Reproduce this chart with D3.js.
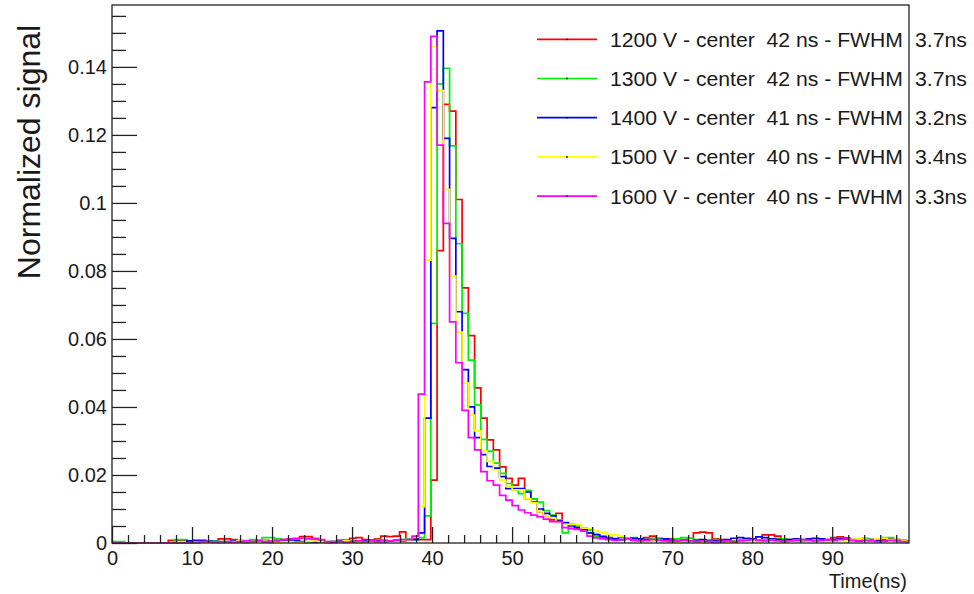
<!DOCTYPE html>
<html>
<head>
<meta charset="utf-8">
<script src="https://cdn.jsdelivr.net/npm/d3@7"></script>
<style>
  html, body { margin: 0; padding: 0; background: #fff; }
  svg { display: block; font-family: "Liberation Sans", Arial, Helvetica, sans-serif; }
</style>
</head>
<body>
<svg id="chart" width="974" height="594"></svg>
<script>
// Time histograms: 128 bins spanning 0–100 ns, normalized to unit area
const nBins = 128;
const histLow = 0, histHigh = 100;

const voltages = ["1200 V", "1300 V", "1400 V", "1500 V", "1600 V"];
const centers = ["42 ns", "42 ns", "41 ns", "40 ns", "40 ns"];
const fwhms = ["3.7ns", "3.7ns", "3.2ns", "3.4ns", "3.3ns"];
const colors = ["#ff0000", "#00ee00", "#0000ff", "#ffff00", "#ff00ff"];

const yMajorTicks = [0, 0.02, 0.04, 0.06, 0.08, 0.1, 0.12, 0.14];
const yTickLabels = ["0", "0.02", "0.04", "0.06", "0.08", "0.1", "0.12", "0.14"];
const xMajorTicks = [0, 10, 20, 30, 40, 50, 60, 70, 80, 90];
const xTickLabels = ["0", "10", "20", "30", "40", "50", "60", "70", "80", "90"];

const signal1200 = [
  0, 0, 0, 0, 0, 0, 0, 0, 0, 0.0008, 0.0008, 0.0008, 0.0004, 0.0004, 0.0006, 0.0006,
  0.0004, 0.0012, 0.0012, 0.0010, 0.0006, 0.0006, 0.0004, 0.0008, 0.0008, 0.0004, 0.0006, 0.0010, 0.0010, 0.0012, 0.0019, 0.0019,
  0.0012, 0.0004, 0.0002, 0.0004, 0.0006, 0.0004, 0.0014, 0.0016, 0.0010, 0.0008, 0.0012, 0.0020, 0.0019, 0.0020, 0.0033, 0.0012,
  0.0015, 0.0010, 0.0010, 0.0185, 0.086, 0.129, 0.127, 0.101, 0.075, 0.061, 0.0456, 0.0367, 0.0303, 0.0274, 0.0224, 0.019,
  0.017, 0.019, 0.013, 0.013, 0.0092, 0.008, 0.0068, 0.0087, 0.0058, 0.0055, 0.0044, 0.0044, 0.003, 0.0025, 0.002, 0.0016,
  0.0012, 0.0018, 0.0014, 0.0010, 0.0012, 0.0016, 0.0020, 0.0014, 0.0010, 0.0012, 0.0008, 0.0010, 0.0014, 0.0030, 0.0032, 0.0030,
  0.0012, 0.0010, 0.0006, 0.0004, 0.0008, 0.0010, 0.0012, 0.0008, 0.0024, 0.0024, 0.0020, 0.0012, 0.0010, 0.0012, 0.0008, 0.0010,
  0.0012, 0.0008, 0.0010, 0.0016, 0.0018, 0.0015, 0.0010, 0.0008, 0.0012, 0.0010, 0.0008, 0.0010, 0.0012, 0.0010, 0.0008, 0.0006
];
const signal1300 = [
  0.0004, 0.0004, 0, 0, 0, 0, 0, 0, 0, 0, 0.0010, 0.0010, 0.0004, 0.0002, 0.0004, 0.0004,
  0.0006, 0.0004, 0.0002, 0.0006, 0.0008, 0.0006, 0.0010, 0.0008, 0.0016, 0.0016, 0.0012, 0.0010, 0.0006, 0.0004, 0.0002, 0.0004,
  0.0006, 0.0008, 0.0004, 0.0002, 0.0004, 0.0006, 0.0008, 0.0006, 0.0004, 0.0006, 0.0010, 0.0008, 0.0006, 0.0008, 0.0010, 0.0012,
  0.0010, 0.0016, 0.008, 0.0646, 0.135, 0.1396, 0.1168, 0.088, 0.0675, 0.0538, 0.0406, 0.0305, 0.027, 0.0235, 0.0205, 0.0175,
  0.0156, 0.0145, 0.0155, 0.013, 0.012, 0.0095, 0.0082, 0.0068, 0.003, 0.0043, 0.005, 0.004, 0.0038, 0.002, 0.002, 0.0016,
  0.0014, 0.0010, 0.0012, 0.0016, 0.0012, 0.0010, 0.0014, 0.0012, 0.0008, 0.0010, 0.0012, 0.0016, 0.0014, 0.0010, 0.0008, 0.0006,
  0.0010, 0.0008, 0.0004, 0.0006, 0.0008, 0.0010, 0.0012, 0.0008, 0.0010, 0.0012, 0.0014, 0.0012, 0.0010, 0.0008, 0.0006, 0.0010,
  0.0012, 0.0010, 0.0008, 0.0006, 0.0010, 0.0008, 0.0010, 0.0012, 0.0014, 0.0010, 0.0012, 0.0016, 0.0016, 0.0010, 0.0006, 0.0004
];
const signal1400 = [
  0, 0, 0, 0, 0, 0, 0, 0, 0, 0, 0, 0, 0.0006, 0.0008, 0.0008, 0.0006,
  0.0004, 0.0002, 0.0004, 0.0006, 0.0004, 0.0002, 0.0004, 0.0006, 0.0004, 0.0002, 0.0004, 0.0008, 0.0008, 0.0006, 0.0004, 0.0002,
  0.0002, 0.0004, 0.0002, 0.0004, 0.0008, 0.0008, 0.0004, 0.0002, 0.0006, 0.0008, 0.0006, 0.0004, 0.0006, 0.0008, 0.0006, 0.0010,
  0.0010, 0.003, 0.0367, 0.128, 0.1506, 0.119, 0.0896, 0.068, 0.051, 0.040, 0.031, 0.026, 0.0225, 0.022, 0.0195, 0.016,
  0.016, 0.016, 0.015, 0.012, 0.010, 0.0087, 0.0080, 0.0065, 0.006, 0.005, 0.0045, 0.004, 0.003, 0.0025, 0.0018, 0.0014,
  0.0012, 0.0010, 0.0012, 0.0014, 0.0012, 0.0010, 0.0008, 0.0010, 0.0012, 0.0008, 0.0006, 0.0004, 0.0006, 0.0008, 0.0010, 0.0008,
  0.0006, 0.0008, 0.0010, 0.0014, 0.0016, 0.0014, 0.0012, 0.0018, 0.0016, 0.0012, 0.0010, 0.0008, 0.0010, 0.0012, 0.0010, 0.0012,
  0.0014, 0.0012, 0.0008, 0.0010, 0.0012, 0.0010, 0.0008, 0.0006, 0.0008, 0.0010, 0.0008, 0.0006, 0.0010, 0.0008, 0.0006, 0.0004
];
const signal1500 = [
  0, 0, 0, 0, 0, 0, 0, 0, 0, 0, 0, 0, 0, 0.0002, 0.0002, 0.0004,
  0.0002, 0.0002, 0.0004, 0.0004, 0.0006, 0.0004, 0.0002, 0.0004, 0.0006, 0.0004, 0.0002, 0.0004, 0.0004, 0.0002, 0.0002, 0.0004,
  0.0006, 0.0004, 0.0002, 0.0002, 0.0004, 0.0006, 0.0004, 0.0002, 0.0004, 0.0006, 0.0004, 0.0006, 0.0008, 0.0006, 0.0008, 0.0010,
  0.0017, 0.0107, 0.0832, 0.146, 0.133, 0.104, 0.0785, 0.062, 0.047, 0.0376, 0.033, 0.027, 0.024, 0.0215, 0.0185, 0.0166,
  0.0156, 0.0156, 0.013, 0.0118, 0.0092, 0.008, 0.0073, 0.006, 0.0055, 0.0055, 0.0055, 0.0044, 0.0044, 0.0035, 0.003, 0.0025,
  0.0024, 0.0020, 0.0012, 0.0008, 0.0006, 0.0004, 0.0006, 0.0008, 0.0006, 0.0004, 0.0002, 0.0004, 0.0006, 0.0004, 0.0002, 0.0004,
  0.0002, 0.0004, 0.0002, 0.0004, 0.0006, 0.0008, 0.0006, 0.0004, 0.0006, 0.0008, 0.0006, 0.0004, 0.0006, 0.0008, 0.0010, 0.0006,
  0.0008, 0.0006, 0.0004, 0.0006, 0.0008, 0.0006, 0.0010, 0.0012, 0.0010, 0.0008, 0.0012, 0.0014, 0.0010, 0.0008, 0.0006, 0.0004
];
const signal1600 = [
  0, 0, 0, 0, 0, 0, 0, 0, 0, 0, 0, 0, 0, 0, 0.0004, 0.0004,
  0.0002, 0.0004, 0.0004, 0.0002, 0.0004, 0.0006, 0.0004, 0.0006, 0.0004, 0.0006, 0.0008, 0.0010, 0.0012, 0.0014, 0.0014, 0.0012,
  0.0014, 0.0010, 0.0004, 0.0002, 0.0004, 0.0002, 0.0004, 0.0006, 0.0004, 0.0006, 0.0004, 0.0008, 0.0006, 0.0008, 0.0010, 0.0010,
  0.0020, 0.0438, 0.1356, 0.149, 0.117, 0.094, 0.065, 0.053, 0.039, 0.031, 0.0274, 0.021, 0.0183, 0.017, 0.014, 0.0126,
  0.011, 0.0097, 0.0089, 0.0082, 0.0077, 0.007, 0.0063, 0.0063, 0.0045, 0.0042, 0.004, 0.0035, 0.002, 0.0015, 0.0012, 0.0010,
  0.0008, 0.0010, 0.0012, 0.0008, 0.0006, 0.0008, 0.0010, 0.0008, 0.0006, 0.0004, 0.0006, 0.0008, 0.0006, 0.0004, 0.0006, 0.0004,
  0.0002, 0.0004, 0.0006, 0.0004, 0.0006, 0.0008, 0.0010, 0.0008, 0.0006, 0.0008, 0.0006, 0.0004, 0.0006, 0.0008, 0.0010, 0.0008,
  0.0006, 0.0008, 0.0010, 0.0008, 0.0010, 0.0012, 0.0008, 0.0006, 0.0008, 0.0006, 0.0004, 0.0006, 0.0008, 0.0006, 0.0004, 0.0002
];

const seriesValues = [signal1200, signal1300, signal1400, signal1500, signal1600];

// Frame geometry
const frame = { left: 112, right: 909, top: 5, bottom: 543 };
const xMax = 99.6, yMax = 0.1582;

const svg = d3.select("#chart");
const x = d3.scaleLinear().domain([0, xMax]).range([frame.left, frame.right]);
const y = d3.scaleLinear().domain([0, yMax]).range([frame.bottom, frame.top]);

svg.append("defs").append("clipPath").attr("id", "plotClip")
  .append("rect")
  .attr("x", frame.left).attr("y", frame.top - 2)
  .attr("width", frame.right - frame.left).attr("height", frame.bottom - frame.top + 4);

// Histogram outlines (drawn in order, last on top)
const binWidth = (histHigh - histLow) / nBins;
const stepLine = d3.line()
  .x(d => x(d[0]))
  .y(d => y(d[1]))
  .curve(d3.curveStepAfter);

const histGroup = svg.append("g").attr("clip-path", "url(#plotClip)");
seriesValues.forEach((vals, i) => {
  const pts = vals.map((v, k) => [histLow + k * binWidth, v]);
  pts.push([histHigh, vals[vals.length - 1]]);
  histGroup.append("path")
    .attr("d", stepLine(pts))
    .attr("fill", "none")
    .attr("stroke", colors[i])
    .attr("stroke-width", 1.7);
});

// Axes: ticks pointing into the frame
const axisColor = "#222";
const yMinor = d3.range(0, 0.1551, 0.005).filter(v => !yMajorTicks.some(m => Math.abs(m - v) < 1e-9));
const xMinor = d3.range(0, 99, 2).filter(v => v % 10 !== 0);

const yAxisMajor = svg.append("g").attr("transform", `translate(${frame.left},0)`)
  .call(d3.axisLeft(y).tickValues(yMajorTicks).tickSize(-25).tickPadding(5)
    .tickFormat((d, i) => yTickLabels[i]));
const yAxisMinor = svg.append("g").attr("transform", `translate(${frame.left},0)`)
  .call(d3.axisLeft(y).tickValues(yMinor).tickSize(-14).tickFormat(""));
const xAxisMajor = svg.append("g").attr("transform", `translate(0,${frame.bottom})`)
  .call(d3.axisBottom(x).tickValues(xMajorTicks).tickSize(-16).tickPadding(8)
    .tickFormat((d, i) => xTickLabels[i]));
const xAxisMinor = svg.append("g").attr("transform", `translate(0,${frame.bottom})`)
  .call(d3.axisBottom(x).tickValues(xMinor).tickSize(-8).tickFormat(""));

[yAxisMajor, yAxisMinor, xAxisMajor, xAxisMinor].forEach(g => {
  g.select(".domain").remove();
  g.selectAll(".tick line").attr("stroke", axisColor).attr("stroke-width", 1.3);
  g.selectAll(".tick text").attr("fill", "#1a1a1a")
    .style("font-family", "'Liberation Sans', Arial, Helvetica, sans-serif")
    .style("font-size", "20px");
});

// Frame box
svg.append("rect")
  .attr("x", frame.left).attr("y", frame.top)
  .attr("width", frame.right - frame.left).attr("height", frame.bottom - frame.top)
  .attr("fill", "none").attr("stroke", axisColor).attr("stroke-width", 1.3);

// Axis titles
svg.append("text")
  .attr("transform", "translate(40,152) rotate(-90)")
  .attr("text-anchor", "middle")
  .attr("fill", "#1a1a1a")
  .style("font-size", "32px")
  .text("Normalized signal");

svg.append("text")
  .attr("x", 907).attr("y", 588)
  .attr("text-anchor", "end")
  .attr("fill", "#1a1a1a")
  .style("font-size", "20px")
  .text("Time(ns)");

// Legend
const legendTop = 39.3, legendStep = 39.2;
const legend = svg.append("g");
voltages.forEach((v, i) => {
  const cy = legendTop + i * legendStep;
  legend.append("line")
    .attr("x1", 537).attr("x2", 597).attr("y1", cy).attr("y2", cy)
    .attr("stroke", colors[i]).attr("stroke-width", 1.7);
  legend.append("circle")
    .attr("cx", 567).attr("cy", cy).attr("r", 0.9).attr("fill", "#000");
  legend.append("text")
    .attr("x", 610).attr("y", cy + 7.5)
    .attr("fill", "#1a1a1a")
    .style("font-size", "20px")
    .style("white-space", "pre")
    .attr("textLength", 293).attr("lengthAdjust", "spacingAndGlyphs")
    .text(`${v} - center  ${centers[i]} - FWHM`);
  legend.append("text")
    .attr("x", 915).attr("y", cy + 7.5)
    .attr("fill", "#1a1a1a")
    .style("font-size", "20px")
    .attr("textLength", 52).attr("lengthAdjust", "spacingAndGlyphs")
    .text(fwhms[i]);
});
</script>
</body>
</html>
